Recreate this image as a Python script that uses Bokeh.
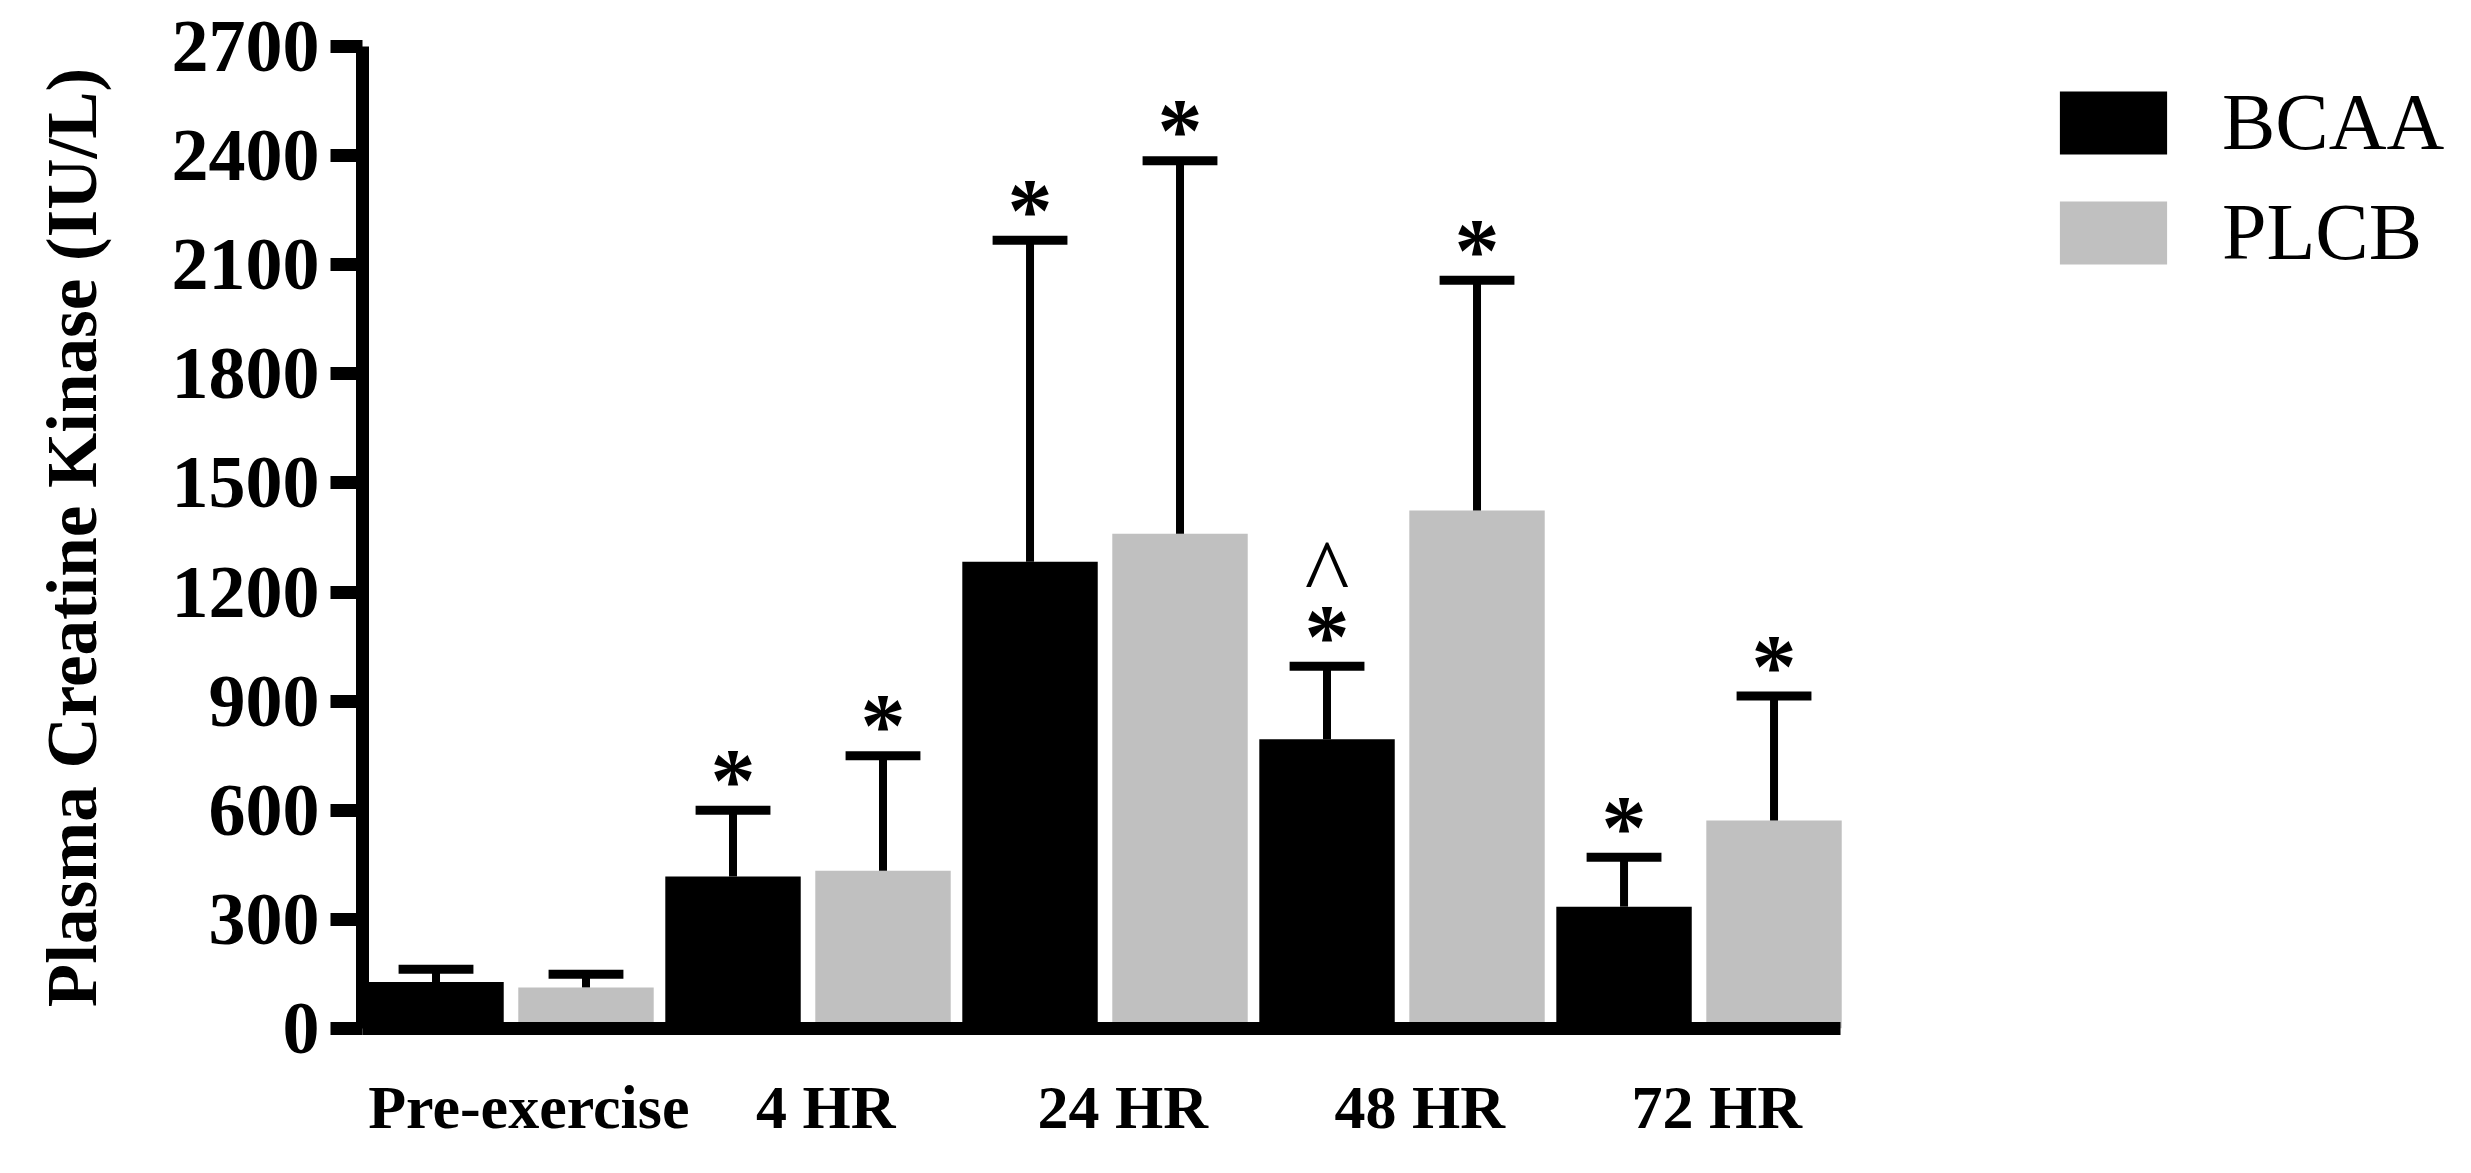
import numpy as np
from bokeh.plotting import figure
from bokeh.models import ColumnDataSource, FixedTicker, Legend, LegendItem, Range1d
from bokeh.core.properties import value
from bokeh.embed import file_html
from bokeh.resources import INLINE

# ---- data ----
categories = ["Pre-exercise", "4 HR", "24 HR", "48 HR", "72 HR"]
series_names = ["BCAA", "PLCB"]
bcaa_mean = [128, 418, 1283, 795, 335]
bcaa_sd = [35, 182, 884, 201, 136]
plcb_mean = [113, 434, 1360, 1424, 572]
plcb_sd = [36, 316, 1026, 633, 342]
bcaa_marks = ["", "*", "*", "*", "*"]
plcb_marks = ["", "*", "*", "*", "*"]
bcaa_extra = ["", "", "", "^", ""]
plcb_extra = ["", "", "", "", ""]
y_ticks = [0, 300, 600, 900, 1200, 1500, 1800, 2100, 2400, 2700]
y_label = "Plasma Creatine Kinase (IU/L)"

# ---- styling / layout constants ----
COLORS = ["#000000", "#c0c0c0"]
OFFSETS = [-0.2525, 0.2525]
BAR_W = 0.456
CAP_HALF = 0.126
LABEL_SHIFT = 0.06
FONT = "Liberation Serif"

n = len(categories)
centers = np.arange(n) + 0.5

p = figure(width=2455, height=1157, output_backend="svg", toolbar_location=None,
           x_range=Range1d(0, 7.047), y_range=Range1d(0, 2700),
           min_border_left=362, min_border_right=0, min_border_top=46,
           min_border_bottom=129)
p.outline_line_color = None
p.xgrid.grid_line_color = None
p.ygrid.grid_line_color = None
p.background_fill_color = "white"
p.border_fill_color = "white"

renderers = []
for name, means, sds, marks, extras, color, off in zip(
        series_names, [bcaa_mean, plcb_mean], [bcaa_sd, plcb_sd],
        [bcaa_marks, plcb_marks], [bcaa_extra, plcb_extra], COLORS, OFFSETS):
    means = np.array(means, dtype=float)
    upper = means + np.array(sds, dtype=float)
    x = centers + off
    src = ColumnDataSource(dict(x=x, top=means, upper=upper,
                                cl=x - CAP_HALF, cr=x + CAP_HALF,
                                mark=marks, extra=extras))
    r = p.vbar(x="x", top="top", bottom=0, width=BAR_W, source=src,
               fill_color=color, line_color=None)
    renderers.append(r)
    p.segment(x0="x", y0="top", x1="x", y1="upper", source=src,
              line_color="black", line_width=8, line_cap="butt")
    p.segment(x0="cl", y0="upper", x1="cr", y1="upper", source=src,
              line_color="black", line_width=9, line_cap="butt")
    p.text(x="x", y="upper", text="mark", source=src,
           text_font=value(FONT), text_font_style="bold", text_font_size="90px",
           text_align="center", text_baseline="alphabetic", y_offset=-30,
           text_color="black")
    p.text(x="x", y="upper", text="extra", source=src,
           text_font=value(FONT), text_font_style="normal", text_font_size="95px",
           text_align="center", text_baseline="alphabetic", y_offset=-93,
           text_color="black")

# ---- y axis ----
ya = p.yaxis[0]
ya.ticker = FixedTicker(ticks=y_ticks)
ya.axis_line_width = 13
ya.axis_line_color = "black"
ya.major_tick_line_width = 13
ya.major_tick_line_color = "black"
ya.major_tick_out = 32
ya.major_tick_in = 0
ya.minor_tick_out = 0
ya.minor_tick_in = 0
ya.major_label_text_font = FONT
ya.major_label_text_font_style = "bold"
ya.major_label_text_font_size = "74px"
ya.major_label_text_color = "black"
ya.major_label_standoff = 11
ya.axis_label = y_label
ya.axis_label_text_font = FONT
ya.axis_label_text_font_style = "bold"
ya.axis_label_text_font_size = "71px"
ya.axis_label_text_color = "black"
ya.axis_label_standoff = 58

# ---- x axis ----
xa = p.xaxis[0]
x_ticks = [float(c + LABEL_SHIFT) for c in centers]
xa.ticker = FixedTicker(ticks=x_ticks)
xa.major_label_overrides = {t: lab for t, lab in zip(x_ticks, categories)}
xa.bounds = (-0.022, 4.975)
xa.axis_line_width = 13
xa.axis_line_color = "black"
xa.major_tick_out = 0
xa.major_tick_in = 0
xa.minor_tick_out = 0
xa.minor_tick_in = 0
xa.major_label_text_font = FONT
xa.major_label_text_font_style = "bold"
xa.major_label_text_font_size = "62px"
xa.major_label_text_color = "black"
xa.major_label_standoff = 44

# ---- legend ----
legend = Legend(items=[LegendItem(label=nm, renderers=[r]) for nm, r in zip(series_names, renderers)],
                location=(1684, 750), glyph_width=134, glyph_height=79, spacing=19,
                label_standoff=42, padding=0, margin=0, border_line_color=None,
                background_fill_alpha=0, label_text_font=FONT,
                label_text_font_size="80px", label_text_color="black")
p.add_layout(legend)

open("out.html", "w").write(file_html(p, INLINE))
